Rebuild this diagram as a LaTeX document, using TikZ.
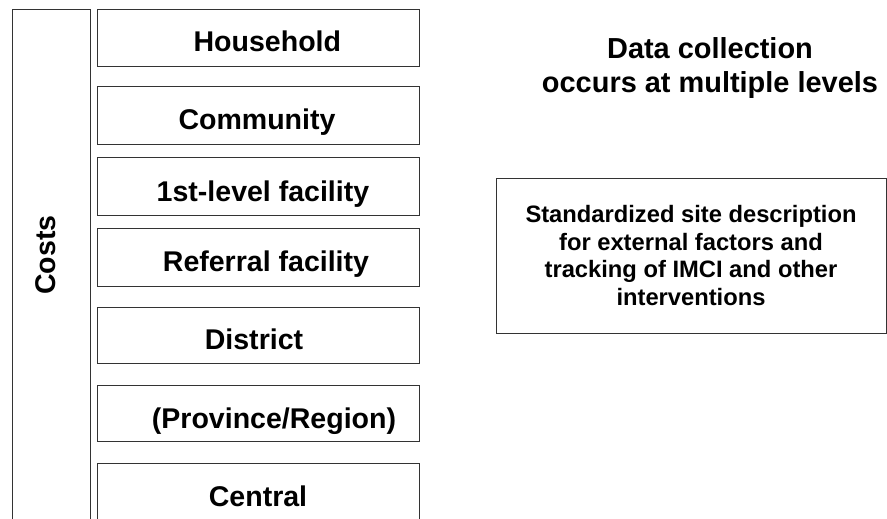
\documentclass[tikz,border=0pt]{standalone}
\usepackage{fontspec}
\setmainfont{Liberation Sans}
\usepackage{tikz}

\tikzset{
  levelbox/.style={draw=black!80, line width=0.75pt, minimum width=322*0.75pt, minimum height=57*0.75pt, inner sep=0pt},
  leveltext/.style={font=\bfseries\fontsize{21.4}{25}\selectfont, inner sep=0pt, anchor=base},
}

\begin{document}
\begin{tikzpicture}[x=0.75pt,y=0.75pt,yscale=-1,xscale=1]
\useasboundingbox (0,0) rectangle (887,518);

%Shape: Open box [id:costs]
\draw [draw=black!80, line width=0.75pt] (12,522) -- (12,9) -- (90,9) -- (90,522) ;
% Text Node
\node [font=\bfseries\fontsize{21.4}{25}\selectfont, inner sep=0.75pt, rotate=90] (costs) at (46,255) {Costs};

%Shape: Rectangles [id:levels]
\node [levelbox] (house) at (258,37.5) {};
\node [levelbox, minimum height=58*0.75pt] (comm) at (258,115) {};
\node [levelbox, minimum height=58*0.75pt] (first) at (258,186) {};
\node [levelbox, minimum height=58*0.75pt] (refer) at (258,257) {};
\node [levelbox, minimum height=56*0.75pt] (dist) at (258,335) {};
\node [levelbox, minimum height=56*0.75pt] (prov) at (258,413) {};
\node [levelbox, minimum height=58*0.75pt] (central) at (258,492) {};

% Text Node (baseline 44px below the top of each box, y is flipped)
\node [leveltext] (housetxt) at ([xshift=7pt,yshift=32.5pt]house.north) {Household};
\node [leveltext] (commtxt) at ([xshift=-0.75pt,yshift=33pt]comm.north) {Community};
\node [leveltext] (firsttxt) at ([xshift=3.75pt,yshift=33.5pt]first.north) {1st-level facility};
\node [leveltext] (refertxt) at ([xshift=6pt,yshift=33pt]refer.north) {Referral facility};
\node [leveltext] (disttxt) at ([xshift=-3pt,yshift=32.5pt]dist.north) {District};
\node [leveltext] (provtxt) at ([xshift=12pt,yshift=33pt]prov.north) {(Province/Region)};
\node [leveltext] (centraltxt) at ([yshift=33pt]central.north) {Central};

% Text Node
\node [font=\bfseries\fontsize{21.7}{25.5}\selectfont, align=center, inner sep=0.75pt] (title) at (710,68) {Data collection\\occurs at multiple levels};

%Shape: Rectangle [id:site]
\node [draw=black!80, line width=0.75pt, minimum width=390*0.75pt, minimum height=155*0.75pt, inner sep=0pt] (site) at (691,255.5) {};
% Text Node
\node [font=\bfseries\fontsize{17.8}{20.6}\selectfont, align=center, inner sep=0.75pt] (sitetxt) at (site.center) {Standardized site description\\for external factors and\\tracking of IMCI and other\\interventions};

\end{tikzpicture}
\end{document}
